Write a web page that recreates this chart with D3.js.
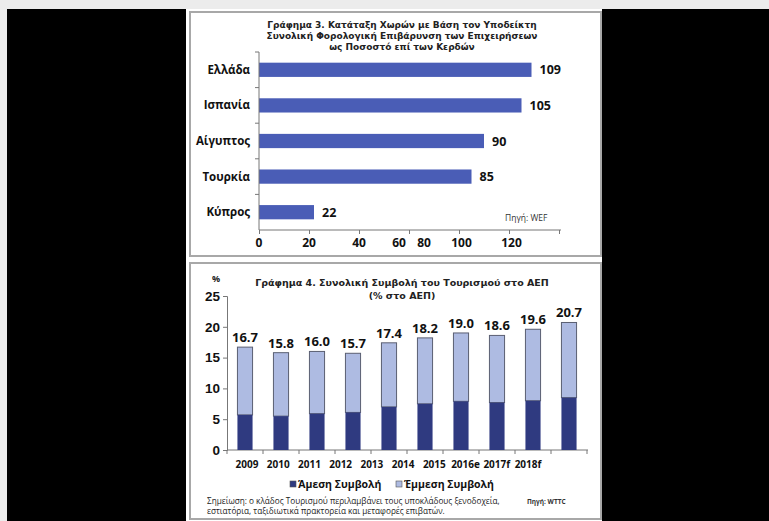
<!DOCTYPE html>
<html lang="el">
<head>
<meta charset="UTF-8" />
<title>Γράφημα 3 & 4</title>
<script src="https://d3js.org/d3.v7.min.js"></script>
<style>
  body { margin: 0; background: #ececec; }
  svg { display: block; font-family: "Open Sans", "Noto Sans", sans-serif; }
  .axis path, .axis line { stroke: #777; }
  .axis text { font-weight: 700; fill: #111; }
  .ttl { font-family: "DejaVu Sans", sans-serif; }
</style>
</head>
<body>
<svg width="769" height="521"></svg>
<script>
// ---- Γράφημα 3 data
const countries = ["Ελλάδα", "Ισπανία", "Αίγυπτος", "Τουρκία", "Κύπρος"];
const taxValues = [109, 105, 90, 85, 22];
const taxTicks = [0, 20, 40, 60, 80, 100, 120];
const taxTickLabels = ["0", "20", "40", "60", "80", "100", "120"];
// where each x label sits in the picture (data units), they drift off their ticks
const taxLabelAt = [0, 20, 40, 56, 66, 81, 101];

// ---- Γράφημα 4 data
const years = ["2009", "2010", "2011", "2012", "2013", "2014", "2015", "2016e", "2017f", "2018f"];
const totalGdp = [16.7, 15.8, 16.0, 15.7, 17.4, 18.2, 19.0, 18.6, 19.6, 20.7];
const directGdp = [5.7, 5.5, 5.9, 6.1, 7.0, 7.5, 7.9, 7.7, 8.0, 8.5];
const gdpTicks = [0, 5, 10, 15, 20, 25];

const svg = d3.select("svg");

// page frame: black surround, white sheet, two panels
svg.append("rect").attr("x", 7).attr("y", 9).attr("width", 762).attr("height", 512).attr("fill", "#000");
svg.append("rect").attr("x", 186).attr("y", 9).attr("width", 416).attr("height", 512).attr("fill", "#fff");
svg.append("rect").attr("x", 190).attr("y", 12).attr("width", 411).attr("height", 244)
  .attr("fill", "none").attr("stroke", "#a8a8a8").attr("stroke-width", 2);
svg.append("rect").attr("x", 190).attr("y", 263).attr("width", 411).attr("height", 256)
  .attr("fill", "none").attr("stroke", "#a8a8a8").attr("stroke-width", 2);

// ================= Γράφημα 3 =================
const g1 = svg.append("g");
const title1 = ["Γράφημα 3. Κατάταξη Χωρών με Βάση τον Υποδείκτη",
  "Συνολική Φορολογική Επιβάρυνση των Επιχειρήσεων",
  "ως Ποσοστό επί των Κερδών"];
g1.selectAll("text.t1").data(title1).enter().append("text")
  .attr("class", "t1 ttl")
  .attr("x", 402).attr("y", (d, i) => 28 + i * 11)
  .attr("text-anchor", "middle")
  .attr("font-size", 9).attr("font-weight", 700).attr("fill", "#222")
  .text(d => d);

const x1 = d3.scaleLinear().domain([0, 120]).range([259, 559]);
const y1 = d3.scaleBand().domain(countries).range([52, 230]).paddingInner(0.6).paddingOuter(0.3);

g1.selectAll("rect.bar").data(taxValues).enter().append("rect")
  .attr("class", "bar")
  .attr("x", x1(0))
  .attr("y", (d, i) => y1(countries[i]))
  .attr("width", d => x1(d) - x1(0))
  .attr("height", y1.bandwidth())
  .attr("fill", "#4a5db6");

g1.selectAll("text.val").data(taxValues).enter().append("text")
  .attr("class", "val")
  .attr("x", d => x1(d) + 8)
  .attr("y", (d, i) => y1(countries[i]) + y1.bandwidth() / 2 + 4.5)
  .attr("font-size", 12.5).attr("font-weight", 700).attr("fill", "#111")
  .text(d => d);

// y axis: line with ticks between categories
const yAx = g1.append("g").attr("class", "axis").attr("transform", `translate(${x1(0)},0)`);
yAx.append("line").attr("x1", 0).attr("x2", 0).attr("y1", 52).attr("y2", 230);
yAx.selectAll("line.tk").data(d3.range(countries.length)).enter().append("line")
  .attr("class", "tk")
  .attr("x1", -4).attr("x2", 0)
  .attr("y1", i => 52 + i * (178 / countries.length))
  .attr("y2", i => 52 + i * (178 / countries.length));
g1.selectAll("text.cat").data(countries).enter().append("text")
  .attr("class", "cat")
  .attr("x", 250)
  .attr("y", d => y1(d) + y1.bandwidth() / 2 + 4)
  .attr("text-anchor", "end")
  .attr("font-size", 11.5).attr("font-weight", 700).attr("fill", "#111")
  .text(d => d);

// x axis
const xAx = g1.append("g").attr("class", "axis").attr("transform", "translate(0,230)")
  .call(d3.axisBottom(x1).tickValues(taxTicks).tickSize(4).tickFormat(""));
xAx.select(".domain").attr("d", `M${x1(0)},0H${x1(120) + 2}`);
g1.selectAll("text.xl").data(taxTickLabels).enter().append("text")
  .attr("class", "xl")
  .attr("x", (d, i) => x1(taxLabelAt[i]))
  .attr("y", 247)
  .attr("text-anchor", "middle")
  .attr("font-size", 12).attr("font-weight", 700).attr("fill", "#111")
  .text(d => d);

g1.append("text").attr("x", 505).attr("y", 221)
  .attr("font-size", 8.5).attr("fill", "#333").text("Πηγή: WEF");

// ================= Γράφημα 4 =================
const g2 = svg.append("g");
g2.append("text").attr("class", "ttl").attr("x", 402).attr("y", 286).attr("text-anchor", "middle")
  .attr("font-size", 9.5).attr("font-weight", 700).attr("fill", "#222")
  .text("Γράφημα 4. Συνολική Συμβολή του Τουρισμού στο ΑΕΠ");
g2.append("text").attr("class", "ttl").attr("x", 402).attr("y", 299).attr("text-anchor", "middle")
  .attr("font-size", 9.5).attr("font-weight", 700).attr("fill", "#222")
  .text("(% στο ΑΕΠ)");
g2.append("text").attr("x", 212).attr("y", 282)
  .attr("font-size", 9).attr("font-weight", 700).attr("fill", "#222").text("%");

const x2 = d3.scaleBand().domain(years).range([227, 587]).paddingInner(0.58).paddingOuter(0.29);
const y2 = d3.scaleLinear().domain([0, 25]).range([450, 296]);

const yAx2 = g2.append("g").attr("class", "axis").attr("transform", "translate(227,0)")
  .call(d3.axisLeft(y2).tickValues(gdpTicks).tickSize(4).tickPadding(3));
yAx2.selectAll("text").attr("font-size", 13.5);

const xAx2 = g2.append("g").attr("class", "axis").attr("transform", "translate(0,450)")
  .call(d3.axisBottom(x2).tickSize(0).tickFormat(""));
xAx2.select(".domain").attr("d", "M227,0H588");
xAx2.selectAll("line.sep").data(d3.range(years.length + 1)).enter().append("line")
  .attr("class", "sep")
  .attr("x1", i => 227 + i * x2.step()).attr("x2", i => 227 + i * x2.step())
  .attr("y1", 0).attr("y2", 4);

// year labels are squeezed to the left in the picture
const xl2 = d3.scalePoint().domain(years).range([247, 528]);
g2.selectAll("text.yr").data(years).enter().append("text")
  .attr("class", "yr")
  .attr("x", d => xl2(d)).attr("y", 468)
  .attr("text-anchor", "middle")
  .attr("font-size", 10).attr("font-weight", 700).attr("fill", "#111")
  .text(d => d);

const stack = years.map((y, i) => ({ year: y, direct: directGdp[i], total: totalGdp[i] }));

g2.selectAll("rect.ind").data(stack).enter().append("rect")
  .attr("class", "ind")
  .attr("x", d => x2(d.year))
  .attr("y", d => y2(d.total))
  .attr("width", x2.bandwidth())
  .attr("height", d => y2(d.direct) - y2(d.total))
  .attr("fill", "#aebbe2").attr("stroke", "#5a5f72").attr("stroke-width", 1);

g2.selectAll("rect.dir").data(stack).enter().append("rect")
  .attr("class", "dir")
  .attr("x", d => x2(d.year))
  .attr("y", d => y2(d.direct))
  .attr("width", x2.bandwidth())
  .attr("height", d => y2(0) - y2(d.direct))
  .attr("fill", "#2f3a80");

g2.selectAll("text.tot").data(stack).enter().append("text")
  .attr("class", "tot")
  .attr("x", d => x2(d.year) + x2.bandwidth() / 2)
  .attr("y", d => y2(d.total) - 5)
  .attr("text-anchor", "middle")
  .attr("font-size", 13).attr("font-weight", 700).attr("fill", "#111")
  .text(d => d3.format(".1f")(d.total));

// legend
const legend = [{ name: "Άμεση Συμβολή", fill: "#2f3a80", x: 290 },
                { name: "Έμμεση Συμβολή", fill: "#aebbe2", x: 396 }];
const lg = g2.selectAll("g.lg").data(legend).enter().append("g")
  .attr("class", "lg").attr("transform", d => `translate(${d.x},481)`);
lg.append("rect").attr("width", 6).attr("height", 6).attr("y", 0)
  .attr("fill", d => d.fill).attr("stroke", "#555").attr("stroke-width", 0.6);
lg.append("text").attr("x", 8).attr("y", 7)
  .attr("font-size", 10.5).attr("font-weight", 700).attr("fill", "#111")
  .text(d => d.name);

// note and source
const note = ["Σημείωση: ο κλάδος Τουρισμού περιλαμβάνει τους υποκλάδους ξενοδοχεία,",
  "εστιατόρια, ταξιδιωτικά πρακτορεία και μεταφορές επιβατών."];
g2.selectAll("text.note").data(note).enter().append("text")
  .attr("class", "note")
  .attr("x", 207).attr("y", (d, i) => 504 + i * 10)
  .attr("font-size", 8.2).attr("fill", "#222")
  .text(d => d);
g2.append("text").attr("x", 527).attr("y", 504)
  .attr("font-size", 6.5).attr("font-weight", 700).attr("fill", "#333").text("Πηγή: WTTC");
</script>
</body>
</html>
